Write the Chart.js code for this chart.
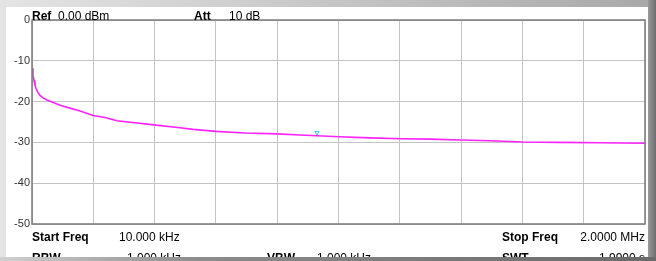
<!DOCTYPE html>
<html>
<head>
<meta charset="utf-8">
<script src="https://cdn.jsdelivr.net/npm/chart.js@4"></script>
<style>
  html, body { margin: 0; padding: 0; background: #fff; }
  canvas { display: block; }
</style>
</head>
<body>
<canvas id="spectrum" width="656" height="261"></canvas>
<script>
// Trace: frequency (kHz) and level (dBm)
var freqs = [10, 13.2, 16.5, 19.7, 23, 29.5, 36, 45.7, 58.7, 75, 101, 133, 166, 208, 247, 286, 344, 406,
  490, 533, 607, 701, 805, 880, 1007, 1107, 1205, 1302, 1403, 1496, 1603, 1724, 1854, 2000];
var levels = [-11.8, -13.5, -14.8, -16.0, -16.8, -17.8, -18.5, -19.1, -19.6, -20.1, -20.9, -21.6, -22.3, -23.4, -23.9, -24.7, -25.2, -25.7,
  -26.4, -26.8, -27.3, -27.7, -27.9, -28.2, -28.6, -28.9, -29.1, -29.2, -29.4, -29.6, -29.9, -30.0, -30.1, -30.2];

// marker (small cyan triangle on the trace)
var markerFreq = [935];
var markerLevel = [-27.6];

var startFreq = 10, stopFreq = 2000; // kHz
var refLevel = 0, bottomLevel = -50, dbPerDiv = 10;

var headerTexts = [
  { text: 'Ref', x: 32, y: 20, bold: true },
  { text: '0.00 dBm', x: 58, y: 20 },
  { text: 'Att', x: 194, y: 20, bold: true },
  { text: '10 dB', x: 229, y: 20 }
];
var footerTexts = [
  { text: 'Start Freq', x: 32, y: 241, bold: true },
  { text: '10.000 kHz', x: 119, y: 241 },
  { text: 'Stop Freq', x: 502, y: 241, bold: true },
  { text: '2.0000 MHz', x: 645, y: 241, align: 'right' },
  { text: 'RBW', x: 32, y: 262, bold: true },
  { text: '1.000 kHz', x: 181, y: 262, align: 'right' },
  { text: 'VBW', x: 267, y: 262, bold: true },
  { text: '1.000 kHz', x: 317, y: 262 },
  { text: 'SWT', x: 502, y: 262, bold: true },
  { text: '1.9900 s', x: 645, y: 262, align: 'right' }
];

// Frame around the screen and the panel texts
var panel = { left: 6, top: 7, right: 648, bottom: 257 };

Chart.register({
  id: 'screenFrame',
  beforeDraw: function(c) {
    var ctx = c.ctx;
    ctx.save();
    var g = ctx.createLinearGradient(0, 0, c.width, 0);
    g.addColorStop(0, '#e4e4e4');
    g.addColorStop(1, '#a8a8a8');
    ctx.fillStyle = g;
    ctx.fillRect(0, 0, c.width, c.height);
    // right edge darker
    var gr = ctx.createLinearGradient(panel.right, 0, c.width, 0);
    gr.addColorStop(0, '#9a9a9a');
    gr.addColorStop(1, '#6e6e6e');
    ctx.fillStyle = gr;
    ctx.fillRect(panel.right, 0, c.width - panel.right, c.height);
    // bottom edge
    var gb = ctx.createLinearGradient(0, 0, c.width, 0);
    gb.addColorStop(0, '#d0d0d0');
    gb.addColorStop(0.3, '#8c8c8c');
    gb.addColorStop(1, '#6a6a6a');
    ctx.fillStyle = gb;
    ctx.fillRect(0, panel.bottom, c.width, c.height - panel.bottom);
    ctx.fillStyle = '#ffffff';
    ctx.fillRect(panel.left, panel.top, panel.right - panel.left, panel.bottom - panel.top);
    ctx.restore();
  },
  afterDraw: function(c) {
    var ctx = c.ctx;
    var a = c.chartArea;
    ctx.save();
    ctx.strokeStyle = '#7a7a7a';
    ctx.lineWidth = 1.5;
    ctx.strokeRect(a.left, a.top, a.right - a.left, a.bottom - a.top);

    ctx.beginPath();
    ctx.rect(panel.left, panel.top, panel.right - panel.left, panel.bottom - panel.top);
    ctx.clip();
    ctx.fillStyle = '#000';
    ctx.textBaseline = 'alphabetic';
    headerTexts.concat(footerTexts).forEach(function(t) {
      ctx.font = (t.bold ? 'bold ' : '') + '12px "Liberation Sans", Arial, sans-serif';
      ctx.textAlign = t.align || 'left';
      ctx.fillText(t.text, t.x, t.y);
    });
    ctx.restore();
  }
});

var ctx = document.getElementById('spectrum').getContext('2d');
new Chart(ctx, {
  type: 'line',
  data: {
    datasets: [{
      label: 'trace',
      data: freqs.map(function(f, i) { return { x: f, y: levels[i] }; }),
      borderColor: '#ff22ff',
      borderWidth: 1.6,
      pointRadius: 0,
      tension: 0,
      fill: false
    }, {
      label: 'marker',
      type: 'scatter',
      data: markerFreq.map(function(f, i) { return { x: f, y: markerLevel[i] }; }),
      pointStyle: 'triangle',
      rotation: 180,
      pointRadius: 2.5,
      borderColor: '#33ccff',
      backgroundColor: 'rgba(0,0,0,0)',
      borderWidth: 1
    }]
  },
  options: {
    responsive: false,
    animation: false,
    events: [],
    layout: { padding: { left: 0, top: 20, right: 11, bottom: 37 } },
    plugins: { legend: { display: false }, tooltip: { enabled: false } },
    scales: {
      x: {
        type: 'linear',
        min: startFreq,
        max: stopFreq,
        afterBuildTicks: function(scale) {
          var step = (stopFreq - startFreq) / 10;
          scale.ticks = [];
          for (var i = 0; i <= 10; i++) {
            scale.ticks.push({ value: startFreq + i * step });
          }
        },
        afterFit: function(scale) { scale.height = 0; },
        ticks: { display: false },
        grid: { color: '#c4c4c4', lineWidth: 1, drawTicks: false },
        border: { display: false }
      },
      y: {
        min: bottomLevel,
        max: refLevel,
        afterFit: function(scale) { scale.width = 32; },
        ticks: {
          stepSize: dbPerDiv,
          padding: 2,
          color: '#333',
          font: { family: '"Liberation Sans", Arial, sans-serif', size: 11 }
        },
        grid: { color: '#c4c4c4', lineWidth: 1, drawTicks: false },
        border: { display: false }
      }
    }
  }
});
</script>
</body>
</html>
